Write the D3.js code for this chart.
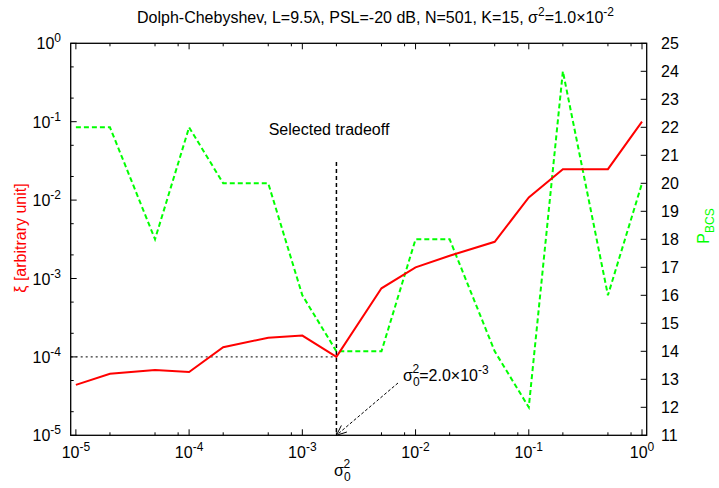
<!DOCTYPE html>
<html><head><meta charset="utf-8">
<script src="https://cdn.jsdelivr.net/npm/d3@7"></script>
<style>body{margin:0;background:#fff}svg{display:block;font-family:"Liberation Sans",Arial,sans-serif}</style>
</head><body><svg id="c" width="719" height="488"></svg>
<script>
// ---- data ----
const sigma0 = [1e-5,2e-5,5e-5,1e-4,2e-4,5e-4,1e-3,2e-3,5e-3,1e-2,2e-2,5e-2,1e-1,2e-1,5e-1,1];
const xiValues = [4.4e-5,6.1e-5,6.8e-5,6.4e-5,1.33e-4,1.76e-4,1.87e-4,1.0e-4,7.5e-4,1.39e-3,1.95e-3,2.94e-3,1.08e-2,2.48e-2,2.48e-2,0.1];
const pbcsValues = [22,22,18,22,20,20,16,14,14,18,18,14,12,24,16,20];
const xMajorExp = [-5,-4,-3,-2,-1,0];
const yMajorExp = [-5,-4,-3,-2,-1,0];
const y2Ticks = [11,12,13,14,15,16,17,18,19,20,21,22,23,24,25];
const xMinorMult = [2,5,8];
const yMinorMult = [2,5];
const selectedSigma = 2e-3;
const selectedXi = 1e-4;

// ---- layout ----
const L = 70.7, R = 646.7, T = 43.3, B = 435.3;
const svg = d3.select("#c");
const x = d3.scaleLog().domain([9e-6, 1.1]).range([L, R]);
const y = d3.scaleLog().domain([1e-5, 1]).range([B, T]);
const y2 = d3.scaleLinear().domain([11, 25]).range([B, T]);

function pow10Label(g, px, py, exp, anchor) {
  const t = g.append("text").attr("x", px).attr("y", py).attr("font-size", 16).attr("text-anchor", anchor).attr("fill", "#000");
  t.append("tspan").text("10");
  t.append("tspan").attr("dy", -7).attr("font-size", 12).text(String(exp));
  return t;
}

const g = svg.append("g");

// frame
g.append("rect").attr("x", L).attr("y", T).attr("width", R - L).attr("height", B - T)
  .attr("fill", "none").attr("stroke", "#000").attr("stroke-width", 1.3);

// x ticks (bottom + mirrored top)
xMajorExp.forEach(e => {
  const px = x(Math.pow(10, e));
  g.append("line").attr("x1", px).attr("x2", px).attr("y1", B).attr("y2", B - 6).attr("stroke", "#000");
  g.append("line").attr("x1", px).attr("x2", px).attr("y1", T).attr("y2", T + 6).attr("stroke", "#000");
  pow10Label(g, px, 458, e, "middle");
  if (e < 0) xMinorMult.forEach(m => {
    const mx = x(m * Math.pow(10, e));
    g.append("line").attr("x1", mx).attr("x2", mx).attr("y1", B).attr("y2", B - 3).attr("stroke", "#000");
    g.append("line").attr("x1", mx).attr("x2", mx).attr("y1", T).attr("y2", T + 3).attr("stroke", "#000");
  });
});
// y ticks (left)
yMajorExp.forEach(e => {
  const py = y(Math.pow(10, e));
  g.append("line").attr("x1", L).attr("x2", L + 6).attr("y1", py).attr("y2", py).attr("stroke", "#000");
  pow10Label(g, 61, py + 6, e, "end");
  if (e < 0) yMinorMult.forEach(m => {
    const my = y(m * Math.pow(10, e));
    g.append("line").attr("x1", L).attr("x2", L + 3).attr("y1", my).attr("y2", my).attr("stroke", "#000");
  });
});
// y2 ticks (right)
y2Ticks.forEach(v => {
  const py = y2(v);
  g.append("line").attr("x1", R).attr("x2", R - 6).attr("y1", py).attr("y2", py).attr("stroke", "#000");
  g.append("text").attr("x", 661).attr("y", py + 6).attr("font-size", 16).text(v);
});

// title
const title = svg.append("text").attr("x", 137).attr("y", 23).attr("text-anchor", "start").attr("font-size", 16);
title.append("tspan").text("Dolph-Chebyshev, L=9.5λ, PSL=-20 dB, N=501, K=15, σ");
title.append("tspan").attr("dy", -7).attr("font-size", 12).text("2");
title.append("tspan").attr("dy", 7).text("=1.0×10");
title.append("tspan").attr("dy", -7).attr("font-size", 12).text("-2");

// axis labels
svg.append("text").attr("transform", "translate(26,238) rotate(-90)").attr("text-anchor", "middle")
  .attr("font-size", 16).attr("fill", "#ff0000").text("ξ [arbitrary unit]");
const p2 = svg.append("text").attr("transform", "translate(709,226) rotate(-90)").attr("text-anchor", "middle")
  .attr("font-size", 16).attr("fill", "#00ff00");
p2.append("tspan").text("P");
p2.append("tspan").attr("dy", 5).attr("font-size", 12).text("BCS");
const xl = svg.append("text").attr("x", 334).attr("y", 476).attr("font-size", 16);
xl.append("tspan").text("σ");
xl.append("tspan").attr("dy", 5).attr("font-size", 12).text("0");
xl.append("tspan").attr("dx", -7).attr("dy", -13).attr("font-size", 12).text("2");

// reference lines
g.append("line").attr("x1", L).attr("x2", x(selectedSigma)).attr("y1", y(selectedXi)).attr("y2", y(selectedXi))
  .attr("stroke", "#000").attr("stroke-width", 1).attr("stroke-dasharray", "2,3");
g.append("line").attr("x1", x(selectedSigma)).attr("x2", x(selectedSigma)).attr("y1", 162).attr("y2", B)
  .attr("stroke", "#000").attr("stroke-width", 1.5).attr("stroke-dasharray", "4,3");

svg.append("text").attr("x", 329).attr("y", 135).attr("text-anchor", "middle").attr("font-size", 16).text("Selected tradeoff");

// arrow
const ax0 = 398, ay0 = 383, ax1 = x(selectedSigma), ay1 = B;
g.append("line").attr("x1", ax0).attr("y1", ay0).attr("x2", ax1).attr("y2", ay1)
  .attr("stroke", "#000").attr("stroke-width", 1).attr("stroke-dasharray", "3,2");
const ang = Math.atan2(ay1 - ay0, ax1 - ax0);
[0.4, -0.4].forEach(da => {
  g.append("line").attr("x1", ax1).attr("y1", ay1)
    .attr("x2", ax1 - 11 * Math.cos(ang + da)).attr("y2", ay1 - 11 * Math.sin(ang + da))
    .attr("stroke", "#000").attr("stroke-width", 1);
});
const al = svg.append("text").attr("x", 403).attr("y", 381).attr("font-size", 16);
al.append("tspan").text("σ");
al.append("tspan").attr("dy", 5).attr("font-size", 12).text("0");
al.append("tspan").attr("dx", -7).attr("dy", -13).attr("font-size", 12).text("2");
al.append("tspan").attr("dy", 8).text("=2.0×10");
al.append("tspan").attr("dy", -7).attr("font-size", 12).text("-3");

// series
const data = sigma0.map((s, i) => ({s, xi: xiValues[i], p: pbcsValues[i]}));
g.append("path").datum(data).attr("fill", "none").attr("stroke", "#00ff00").attr("stroke-width", 2)
  .attr("stroke-dasharray", "5,3")
  .attr("d", d3.line().x(d => x(d.s)).y(d => y2(d.p)));
g.append("path").datum(data).attr("fill", "none").attr("stroke", "#ff0000").attr("stroke-width", 2)
  .attr("d", d3.line().x(d => x(d.s)).y(d => y(d.xi)));
</script></body></html>
